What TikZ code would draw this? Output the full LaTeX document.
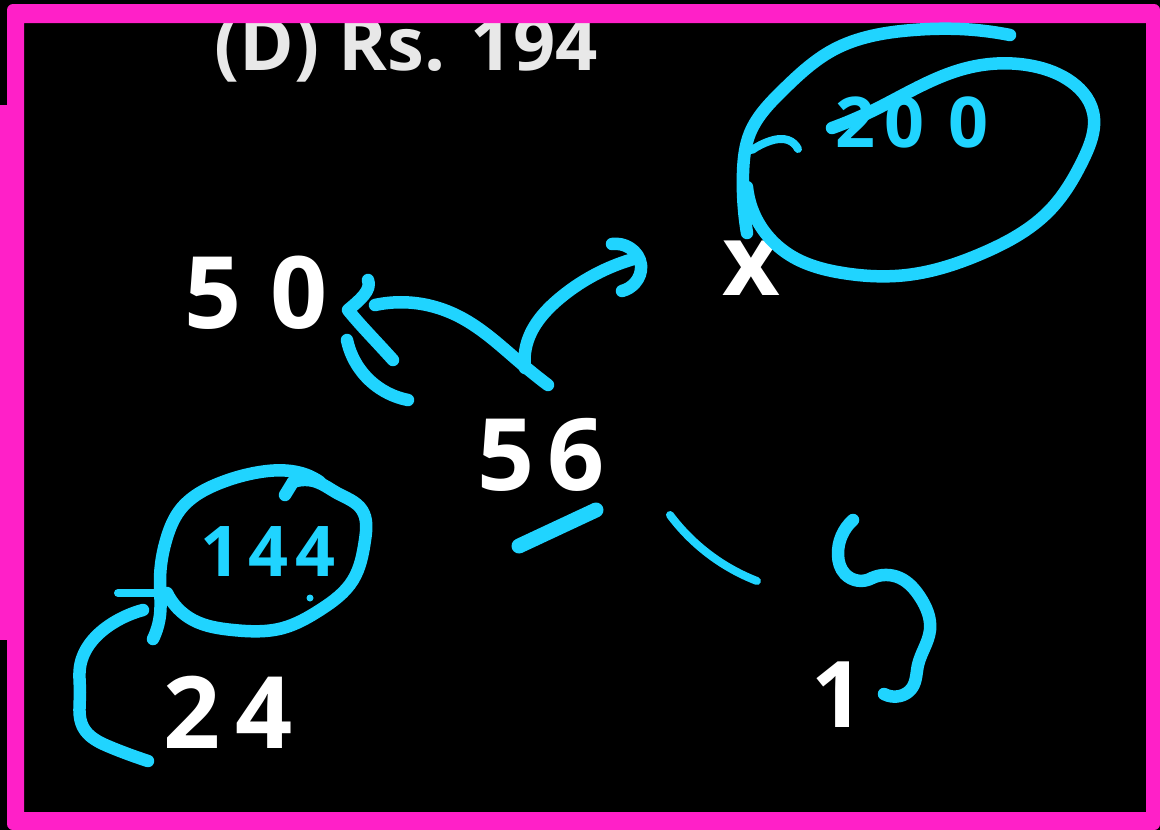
\documentclass[tikz,border=0pt]{standalone}
\usepackage{fontspec}
\usetikzlibrary{hobby}
\setmainfont{Open Sans}
\definecolor{inkblue}{RGB}{32,212,255}
\definecolor{framepink}{RGB}{255,32,200}
\definecolor{printgrey}{RGB}{232,232,232}
\tikzset{
  ink/.style={draw=inkblue,line width=12.5pt,line cap=round,line join=round,use Hobby shortcut},
  thinink/.style={draw=inkblue,line width=8pt,line cap=round,line join=round,use Hobby shortcut},
  handwhite/.style={text=white,font=\bfseries\fontsize{100}{100}\selectfont,inner sep=0pt},
  handblue/.style={text=inkblue,font=\bfseries\fontsize{70}{70}\selectfont,inner sep=0pt}
}
\begin{document}
\begin{tikzpicture}[x=1pt,y=-1pt]
\useasboundingbox (0,0) rectangle (1160,830);
\fill[black] (0,0) rectangle (1160,830);
% printed text
\node[text=printgrey,font=\bfseries\fontsize{74}{74}\selectfont,inner sep=0pt,anchor=base] (opt) at (406,70) {(D) Rs. 194};
% frame
\fill[framepink] (0,105) rectangle (7,640);
\fill[framepink,even odd rule,rounded corners=6pt] (7,4) rectangle (1160,830) {[sharp corners] (24,23) rectangle (1146,812)};
% handwritten numbers
\node[handwhite] (fifty) at (256,293) {5\kern28pt 0};
\node[handwhite] (fiftysix) at (541,455) {5\kern12pt 6};
\node[handwhite] (xvar) at (751,268) {x};
\node[handwhite] (twentyfour) at (228,712) {2\kern14pt 4};
\node[handwhite,font=\bfseries\fontsize{92}{92}\selectfont] (one) at (838,695) {1};
\node[handblue] (ofe) at (268,552) {1\kern8pt 4\kern8pt 4};
\node[handblue] (twohundred) at (912,122) {2\kern10pt 0\kern24pt 0};
% big loop around 200
\draw[ink] (1010,35) .. (960,29) .. (913,30) .. (833,50) .. (783,90) .. (750,133) .. (743,173) .. (747,233);
\draw[ink] (832,128) .. (870,112) .. (967,68) .. (1027,65) .. (1067,79) .. (1093,112) .. (1083,160) .. (1050,210) .. (983,253) .. (907,275) .. (843,273) .. (793,257) .. (757,220) .. (747,187);
\draw[thinink] (752,150) .. (770,141) .. (788,140) .. (798,149);
% arrow to 50
\draw[ink] (375,305) .. (427,305) .. (460,317) .. (523,365) .. (548,385);
\draw[ink] (368,280) .. controls (372,290) and (360,300) .. (348,310) .. controls (360,325) and (375,340) .. (393,360);
\draw[ink] (347,340) .. (362,372) .. (408,400);
% arrow to x
\draw[ink] (525,368) .. (527,343) .. (560,298) .. (600,272) .. (637,258);
\draw[ink] (612,244) .. (630,248) .. (641,265) .. (635,283) .. (622,291);
% under 56
\draw[draw=inkblue,line width=15pt,line cap=round] (519,546) -- (596,510);
% dash and arrow to 1
\draw[thinink] (670,515) .. (710,555) .. (757,581);
\draw[ink] (853,520) .. (838,555) .. (845,574) .. (872,578);
\draw[ink] (872,578) .. (900,578) .. (920,597) .. (930,630) .. (918,665) .. (912,688) .. (900,696) .. (884,694);
% loop around 144
\draw[ink] (285,495) -- (293,482);
\draw[ink] (293,482) .. (317,482) .. (337,493) .. (362,510) .. (365,540) .. (353,580) .. (320,610) .. (283,628) .. (233,630) .. (193,620) .. (167,593);
\draw[ink] (320,482) .. (307,475) .. (260,472) .. (220,483) .. (180,510) .. (167,537) .. (160,580) .. (160,615) .. (153,639);
\fill[inkblue] (310,598) circle (3.5pt);
% arrow from 24 to 144
\draw[thinink] (118,593) -- (160,593);
\draw[ink] (143,610) .. (113,623) .. (80,667) .. (80,693) .. (83,727) .. (110,747) .. (148,761);
\end{tikzpicture}
\end{document}
